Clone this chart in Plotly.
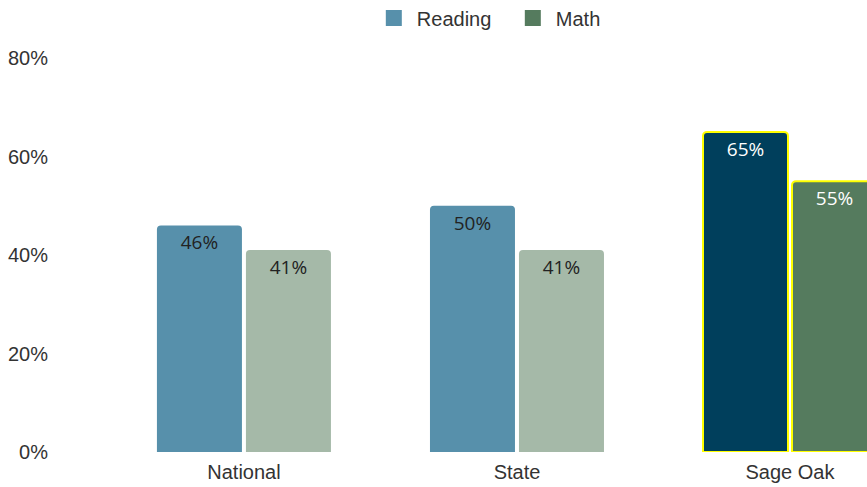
import plotly.graph_objects as go

categories = ["National", "State", "Sage Oak"]
reading = [46, 50, 65]
math = [41, 41, 55]
reading_colors = ["#5790AB", "#5790AB", "#003F5C"]
math_colors = ["#A5B9A8", "#A5B9A8", "#557B5E"]
text_colors_r = ["#222222", "#222222", "#FFFFFF"]
text_colors_m = ["#222222", "#222222", "#FFFFFF"]
outline_colors = ["rgba(0,0,0,0)", "rgba(0,0,0,0)", "#FFFF00"]
outline_widths = [0, 0, 2]
y_ticks = [0, 20, 40, 60, 80]

fig = go.Figure()
fig.add_trace(go.Bar(
    x=categories, y=reading, name="Reading", showlegend=False,
    marker=dict(color=reading_colors, cornerradius=4,
                line=dict(color=outline_colors, width=outline_widths)),
    text=[f"{v}%" for v in reading], textposition="inside", insidetextanchor="end",
    textangle=0, constraintext="none",
    textfont=dict(family="Open Sans", size=19, color=text_colors_r),
))
fig.add_trace(go.Bar(
    x=categories, y=math, name="Math", showlegend=False,
    marker=dict(color=math_colors, cornerradius=4,
                line=dict(color=outline_colors, width=outline_widths)),
    text=[f"{v}%" for v in math], textposition="inside", insidetextanchor="end",
    textangle=0, constraintext="none",
    textfont=dict(family="Open Sans", size=19, color=text_colors_m),
))
# legend-only entries
fig.add_trace(go.Scatter(x=[None], y=[None], mode="markers", name="Reading",
                         marker=dict(symbol="square", size=20, color="#5790AB")))
fig.add_trace(go.Scatter(x=[None], y=[None], mode="markers", name="Math",
                         marker=dict(symbol="square", size=20, color="#557B5E")))

fig.update_layout(
    width=867, height=487,
    margin=dict(l=55, r=0, t=58, b=35),
    paper_bgcolor="white", plot_bgcolor="white",
    barmode="group", bargap=0.348, bargroupgap=0.045,
    font=dict(family="Liberation Sans, Arial, sans-serif", size=20, color="#333333"),
    legend=dict(orientation="h", xref="container", yref="container",
                x=0.4277, xanchor="left", y=0.963, yanchor="middle",
                font=dict(size=20, color="#333333"), itemsizing="trace",
                itemwidth=36, entrywidth=88, entrywidthmode="pixels"),
    xaxis=dict(range=[-0.692, 2.282], showgrid=False, showline=False, zeroline=False,
               ticks="", tickfont=dict(size=20), ticklabelstandoff=6),
    yaxis=dict(range=[0, 80], tickvals=y_ticks, ticktext=[f"{v}%" for v in y_ticks],
               showgrid=False, zeroline=False, showline=False, ticks="",
               tickfont=dict(size=20), ticklabelstandoff=6),
)
fig.write_html("out.html")
